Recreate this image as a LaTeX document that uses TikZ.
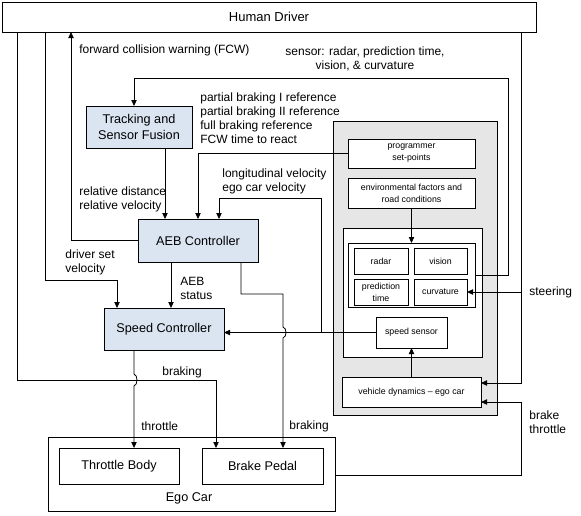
\documentclass[tikz,border=0pt]{standalone}
\usepackage{fontspec}
\setmainfont{Liberation Sans}
\usepackage{xcolor}
\usepackage{tikz}
\usetikzlibrary{arrows.meta}

\definecolor{ctrlblue}{HTML}{DBE5F1}
\definecolor{panelgray}{HTML}{E6E6E6}
\newcommand{\mainsize}{\fontsize{9}{10.5}\selectfont}
\newcommand{\blocksize}{\fontsize{9.5}{11.5}\selectfont}
\newcommand{\smallsize}{\fontsize{6.6}{9}\selectfont}

\tikzset{
  box/.style={draw, inner sep=0pt, outer sep=0pt, align=center, font=\blocksize},
  ctrl/.style={box, fill=ctrlblue},
  smallbox/.style={box, fill=white, font=\smallsize},
  lbl/.style={anchor=west, align=left, inner sep=0pt, font=\mainsize},
  arr/.style={-{Triangle[length=4.5pt,width=4pt]}}
}

\begin{document}
\begin{tikzpicture}[x=0.75pt,y=-0.75pt,line width=0.6pt]
\useasboundingbox (0,0) rectangle (581,515);

% Blocks
\node[box, minimum width=400.5pt, minimum height=22.5pt, font=\fontsize{9.75}{12}\selectfont] (driver) at (269,17) {Human Driver};
\node[ctrl, minimum width=79.5pt, minimum height=31.5pt] (tsf) at (139,127) {Tracking and\\Sensor Fusion};
\node[ctrl, minimum width=90pt, minimum height=32.25pt] (aeb) at (198,240.5) {AEB Controller};
\node[ctrl, minimum width=90pt, minimum height=31.5pt] (spd) at (164,329) {Speed Controller};
\node[box, minimum width=215.25pt, minimum height=55.5pt] (ego) at (191.5,474) {};
\node[box, draw=none, inner sep=0pt] (egolbl) at (189,498) {Ego Car};
\node[box, minimum width=90pt, minimum height=27pt] (thr) at (119,466) {Throttle Body};
\node[box, minimum width=90.75pt, minimum height=27pt] (brk) at (262.5,466) {Brake Pedal};

% Vehicle model panel
\node[box, fill=panelgray, minimum width=123pt, minimum height=220.5pt] (panel) at (415,268) {};
\node[smallbox, minimum width=95.25pt, minimum height=21.75pt] (prog) at (411.5,153.5) {programmer\\set-points};
\node[smallbox, minimum width=95.25pt, minimum height=22.5pt] (env) at (411.5,193) {environmental factors and\\road conditions};
\node[smallbox, minimum width=104.25pt, minimum height=96.75pt] (inner) at (412.5,292.5) {};
\node[smallbox, minimum width=95.25pt, minimum height=48pt] (sens) at (411.5,275) {};
\node[smallbox, minimum width=40.5pt, minimum height=19.5pt] (radar) at (381,261) {radar};
\node[smallbox, minimum width=39.75pt, minimum height=19.5pt] (vision) at (440.5,261) {vision};
\node[smallbox, minimum width=40.5pt, minimum height=19.5pt] (pred) at (381,292) {prediction\\time};
\node[smallbox, minimum width=39.75pt, minimum height=19.5pt] (curv) at (440.5,292) {curvature};
\node[smallbox, minimum width=53.25pt, minimum height=23.25pt] (sensor) at (411.5,332.5) {speed sensor};
\node[smallbox, minimum width=104.25pt, minimum height=22.5pt] (vdyn) at (411.5,392) {vehicle dynamics -- ego car};

% Junctions
\coordinate (jvel) at (321,332.5);
\coordinate (jsteer) at (521,292);

% Connectors
\draw[arr] (driver.south -| 17,0) |- (216,380) -- (brk.north -| 216,0);
\draw[arr] (driver.south -| 45,0) |- (117,280) -- (spd.north -| 117,0);
\draw[arr] (aeb.west) -| (driver.south -| 71,0);
\draw[arr] (sens.east) -| (508,78) -| (tsf.north -| 134,0);
\draw[arr] (tsf.south -| 165,0) -- (aeb.north -| 165,0);
\draw[arr] (prog.west) -| (aeb.north);
\draw[arr] (sensor.west) -- (sensor.west -| spd.east);
\draw[arr] (jvel) |- (219,198) -- (aeb.north -| 219,0);
\draw[arr] (aeb.south -| 171,0) -- (spd.north -| 171,0);
\draw[arr] (aeb.south -| 241,0) |- (283,294) -- (283,327)
  .. controls (287,328) and (287,337) .. (283,338) -- (brk.north -| 283,0);
\draw[arr] (spd.south -| 134,0) -- (134,374)
  .. controls (138,375) and (138,385) .. (134,386) -- (thr.north -| 134,0);
\draw[arr] (env.south) -- (sens.north);
\draw[arr] (vdyn.north) -- (sensor.south);
\draw[arr] (driver.south -| 521,0) |- (vdyn.east |- 0,383);
\draw[arr] (jsteer) -- (curv.east);
\draw[arr] (ego.east |- 0,475) -| (521,402) -- (vdyn.east |- 0,402);

% Signal labels
\node[lbl] (lfcw) at (79,50) {forward collision warning (FCW)};
\node[lbl, anchor=center, align=center] (lsens) at (365,58.5) {sensor: radar, prediction time,\\vision, \& curvature};
\node[lbl] (lref) at (200,118) {partial braking I reference\\partial braking II reference\\full braking reference\\FCW time to react};
\node[lbl] (lrel) at (79,199) {relative distance\\relative velocity};
\node[lbl] (lvel) at (222,181) {longitudinal velocity\\ego car velocity};
\node[lbl] (lset) at (65,262) {driver set\\velocity};
\node[lbl] (lstat) at (180,288) {AEB\\status};
\node[lbl] (lbrk) at (162,372) {braking};
\node[lbl] (lthr) at (141,426) {throttle};
\node[lbl] (lbrk2) at (289,426) {braking};
\node[lbl] (lsteer) at (529,292) {steering};
\node[lbl] (lbt) at (529,422) {brake\\throttle};
\end{tikzpicture}
\end{document}
